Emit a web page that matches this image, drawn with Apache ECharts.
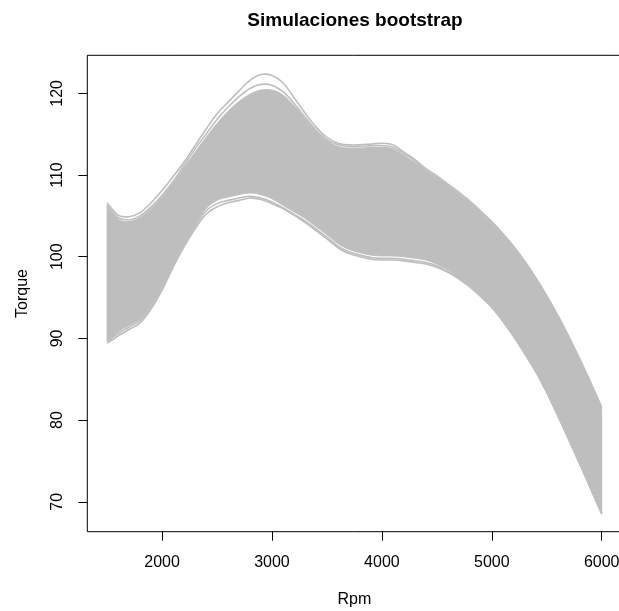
<!DOCTYPE html>
<html>
<head>
<meta charset="utf-8">
<script src="https://cdn.jsdelivr.net/npm/echarts@6/dist/echarts.min.js"></script>
<style>html,body{margin:0;padding:0;background:#fff;}#c{width:619px;height:611px;}</style>
</head>
<body>
<div id="c"></div>
<script>
// Rpm grid (x values)
const rpm = [1500,1600,1700,1800,1900,2000,2100,2200,2300,2400,2500,2600,2700,2800,2900,3000,3100,3200,3300,3400,3500,3600,3700,3800,3900,4000,4100,4200,4300,4400,4500,4600,4700,4800,4900,5000,5100,5200,5300,5400,5500,5600,5700,5800,5900,6000];
// outermost upper bootstrap curve (envelope)
const upperCurve = [106.6,105.1,104.9,105.4,106.6,108.1,109.8,111.6,113.6,115.6,117.5,118.9,120.3,121.6,122.3,122.2,121.3,119.5,117.6,115.9,114.6,113.9,113.7,113.7,113.8,113.9,113.7,112.8,111.9,110.8,109.9,108.9,107.9,106.8,105.6,104.3,102.85,101.25,99.45,97.45,95.25,92.85,90.25,87.5,84.6,81.6];
// second highest curve near the peak
const upperCurve2 = [106.3,104.8,104.5,105.0,106.1,107.5,109.2,111.2,113.2,115.0,116.8,118.3,119.6,120.6,121.1,121.0,120.2,118.8,117.1,115.5,114.3,113.7,113.5,113.5,113.6,113.6,113.4,112.6,111.7,110.6,109.7,108.7,107.7,106.6,105.4,104.1,102.65,101.05,99.25,97.25,95.05,92.65,90.05,87.3,84.4,81.4];
// upper edge of the dense band
const bandUpper = [106.2,104.6,104.3,104.8,105.9,107.3,109.0,110.9,112.8,114.6,116.3,117.8,119.0,119.9,120.4,120.4,119.8,118.5,116.9,115.4,114.2,113.5,113.3,113.3,113.4,113.4,113.2,112.4,111.5,110.5,109.6,108.6,107.6,106.5,105.3,104.0,102.55,100.95,99.15,97.15,94.95,92.55,89.95,87.2,84.3,81.3];
// lower edge of the dense band
const bandLower = [89.7,90.8,91.6,92.4,94.1,96.4,99.2,101.7,103.9,105.9,106.9,107.3,107.6,107.8,107.6,107.1,106.3,105.5,104.7,103.7,102.7,101.6,100.9,100.5,100.2,100.1,100.1,100.0,99.8,99.6,99.1,98.4,97.5,96.5,95.3,94.0,92.3,90.4,88.3,86.1,83.55,80.75,77.8,74.8,71.75,68.7];
// outermost lower bootstrap curve (envelope)
const lowerCurve = [89.4,90.3,91.1,91.9,93.6,95.9,98.7,101.2,103.4,105.2,106.1,106.6,106.9,107.2,107.0,106.5,105.9,105.1,104.2,103.2,102.2,101.1,100.4,100.0,99.7,99.6,99.6,99.5,99.3,99.1,98.7,98.1,97.3,96.3,95.1,93.8,92.1,90.2,88.1,85.9,83.35,80.55,77.6,74.6,71.55,68.5];
// second lowest curve
const lowerCurve2 = [89.6,90.6,91.4,92.2,93.9,96.2,99.0,101.5,103.7,105.6,106.5,106.9,107.2,107.4,107.2,106.7,106.0,105.2,104.4,103.4,102.4,101.3,100.6,100.2,99.9,99.8,99.8,99.7,99.5,99.3,98.9,98.2,97.4,96.4,95.2,93.9,92.2,90.3,88.2,86.0,83.45,80.65,77.7,74.7,71.65,68.6];

const xTicks = [2000,3000,4000,5000,6000];
const yTicks = [70,80,90,100,110,120];

const grey = '#BEBEBE';
const FONT = '"Liberation Sans", Arial, Helvetica, sans-serif';

// Catmull-Rom -> cubic bezier path segments through pixel points (rendering only)
function crSegments(p) {
  let d = '';
  for (let i = 0; i < p.length - 1; i++) {
    const p0 = p[Math.max(i - 1, 0)], p1 = p[i], p2 = p[i + 1], p3 = p[Math.min(i + 2, p.length - 1)];
    const c1 = [p1[0] + (p2[0] - p0[0]) / 6, p1[1] + (p2[1] - p0[1]) / 6];
    const c2 = [p2[0] - (p3[0] - p1[0]) / 6, p2[1] - (p3[1] - p1[1]) / 6];
    d += ' C' + c1[0].toFixed(2) + ' ' + c1[1].toFixed(2) + ' ' + c2[0].toFixed(2) + ' ' + c2[1].toFixed(2) + ' ' + p2[0].toFixed(2) + ' ' + p2[1].toFixed(2);
  }
  return d;
}
const pt = p => p[0].toFixed(2) + ' ' + p[1].toFixed(2);

const bandRows = rpm.map((x, i) => [x, bandUpper[i], bandLower[i]]);

function curveSeries(values) {
  const rows = rpm.map((x, i) => [x, values[i]]);
  return {
    type: 'custom', data: rows, encode: {x: 0, y: 1}, z: 3, silent: true,
    renderItem: function (params, api) {
      if (params.dataIndex !== 0) return null;
      const pts = rows.map(r => api.coord(r));
      return {
        type: 'path',
        shape: {pathData: 'M' + pt(pts[0]) + crSegments(pts)},
        style: {fill: 'none', stroke: grey, lineWidth: 1.6}
      };
    }
  };
}

const chart = echarts.init(document.getElementById('c'), null, {renderer: 'canvas'});
chart.setOption({
  animation: false,
  backgroundColor: '#fff',
  title: {
    text: 'Simulaciones bootstrap',
    left: 350, textAlign: 'center', top: 6,
    textStyle: {fontFamily: FONT, fontSize: 19, fontWeight: 'bold', color: '#000'}
  },
  grid: {
    left: 87.3, top: 55.3, width: 534.2, height: 476.4,
    outerBoundsMode: 'none', containLabel: false,
    show: true, borderColor: '#000', borderWidth: 1, backgroundColor: 'transparent'
  },
  xAxis: {
    type: 'value', min: 1320, max: 6180,
    name: 'Rpm', nameLocation: 'middle', nameGap: 60,
    nameTextStyle: {fontFamily: FONT, fontSize: 16, color: '#000'},
    axisLine: {show: false},
    splitLine: {show: false},
    axisTick: {show: true, length: 9, customValues: xTicks, lineStyle: {color: '#000', width: 1}},
    axisLabel: {customValues: xTicks, margin: 23, fontFamily: FONT, fontSize: 16, color: '#000',
      formatter: v => String(v)}
  },
  yAxis: {
    type: 'value', min: 66.34, max: 124.66,
    name: 'Torque', nameLocation: 'middle', nameGap: 57, nameRotate: 90,
    nameTextStyle: {fontFamily: FONT, fontSize: 16, color: '#000'},
    axisLine: {show: false},
    splitLine: {show: false},
    axisTick: {show: true, length: 9, customValues: yTicks, lineStyle: {color: '#000', width: 1}},
    axisLabel: {customValues: yTicks, margin: 22, rotate: 90, fontFamily: FONT, fontSize: 16, color: '#000',
      formatter: v => String(v)}
  },
  series: [
    {
      type: 'custom',
      data: bandRows,
      encode: {x: 0, y: [1, 2]},
      z: 2, silent: true,
      renderItem: function (params, api) {
        if (params.dataIndex !== 0) return null;
        const top = bandRows.map(r => api.coord([r[0], r[1]]));
        const bot = bandRows.map(r => api.coord([r[0], r[2]])).reverse();
        const d = 'M' + pt(top[0]) + crSegments(top) + ' L' + pt(bot[0]) + crSegments(bot) + ' Z';
        return {
          type: 'path',
          shape: {pathData: d},
          style: {fill: grey, stroke: grey, lineWidth: 1}
        };
      }
    },
    curveSeries(upperCurve),
    curveSeries(upperCurve2),
    curveSeries(lowerCurve),
    curveSeries(lowerCurve2)
  ]
});
</script>
</body>
</html>
